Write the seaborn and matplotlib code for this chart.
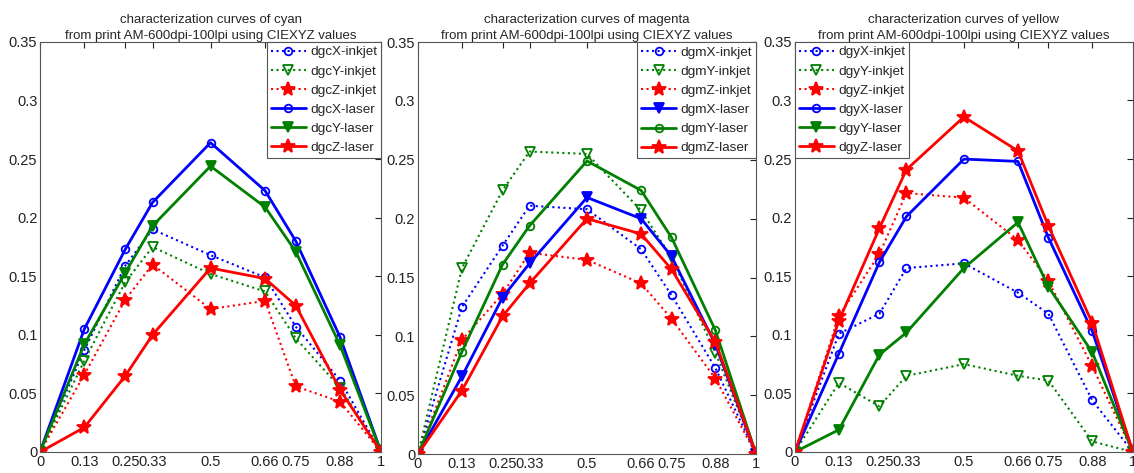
import numpy as np
import pandas as pd
import seaborn as sns
import matplotlib
matplotlib.use("Agg")
import matplotlib.pyplot as plt

sns.set_style("white")
plt.rcParams['font.family'] = ['Liberation Sans', 'DejaVu Sans']

x_vals = [0, 0.13, 0.25, 0.33, 0.5, 0.66, 0.75, 0.88, 1]
x_labels = ["0", "0.13", "0.25", "0.33", "0.5", "0.66", "0.75", "0.88", "1"]
y_ticks = [0, 0.05, 0.1, 0.15, 0.2, 0.25, 0.3, 0.35]
y_labels = ["0", "0.05", "0.1", "0.15", "0.2", "0.25", "0.3", "0.35"]

# cyan
dgcX_inkjet = [0, 0.087, 0.159, 0.190, 0.168, 0.149, 0.107, 0.061, 0]
dgcY_inkjet = [0, 0.078, 0.145, 0.175, 0.152, 0.137, 0.097, 0.055, 0]
dgcZ_inkjet = [0, 0.066, 0.130, 0.160, 0.122, 0.129, 0.056, 0.043, 0]
dgcX_laser = [0, 0.105, 0.173, 0.213, 0.264, 0.223, 0.180, 0.098, 0]
dgcY_laser = [0, 0.092, 0.153, 0.193, 0.244, 0.209, 0.171, 0.091, 0]
dgcZ_laser = [0, 0.021, 0.065, 0.100, 0.157, 0.148, 0.125, 0.053, 0]

# magenta
dgmX_inkjet = [0, 0.125, 0.177, 0.211, 0.208, 0.174, 0.135, 0.073, 0]
dgmY_inkjet = [0, 0.158, 0.224, 0.257, 0.255, 0.207, 0.167, 0.086, 0]
dgmZ_inkjet = [0, 0.097, 0.136, 0.171, 0.165, 0.145, 0.115, 0.064, 0]
dgmX_laser = [0, 0.066, 0.133, 0.162, 0.218, 0.200, 0.168, 0.093, 0]
dgmY_laser = [0, 0.087, 0.161, 0.194, 0.249, 0.224, 0.184, 0.105, 0]
dgmZ_laser = [0, 0.054, 0.117, 0.145, 0.200, 0.187, 0.157, 0.095, 0]

# yellow
dgyX_inkjet = [0, 0.101, 0.118, 0.157, 0.161, 0.136, 0.118, 0.044, 0]
dgyY_inkjet = [0, 0.059, 0.039, 0.065, 0.075, 0.065, 0.061, 0.009, 0]
dgyZ_inkjet = [0, 0.116, 0.169, 0.221, 0.217, 0.181, 0.146, 0.073, 0]
dgyX_laser = [0, 0.084, 0.162, 0.201, 0.250, 0.248, 0.183, 0.103, 0]
dgyY_laser = [0, 0.019, 0.083, 0.102, 0.157, 0.196, 0.141, 0.085, 0]
dgyZ_laser = [0, 0.112, 0.191, 0.241, 0.286, 0.257, 0.193, 0.110, 0]

BLUE, GREEN, RED = "#0000ff", "#008000", "#ff0000"

panels = [
    dict(title="characterization curves of cyan\nfrom print AM-600dpi-100lpi using CIEXYZ values",
         pos=[0.0353, 0.0444, 0.3007, 0.867], loc="upper right",
         series=[
             ("dgcX-inkjet", dgcX_inkjet, BLUE, ":", "o", False),
             ("dgcY-inkjet", dgcY_inkjet, GREEN, ":", "v", False),
             ("dgcZ-inkjet", dgcZ_inkjet, RED, ":", "*", True),
             ("dgcX-laser", dgcX_laser, BLUE, "-", "o", False),
             ("dgcY-laser", dgcY_laser, GREEN, "-", "v", True),
             ("dgcZ-laser", dgcZ_laser, RED, "-", "*", True),
         ]),
    dict(title="characterization curves of magenta\nfrom print AM-600dpi-100lpi using CIEXYZ values",
         pos=[0.3686, 0.040, 0.2981, 0.871], loc="upper right",
         series=[
             ("dgmX-inkjet", dgmX_inkjet, BLUE, ":", "o", False),
             ("dgmY-inkjet", dgmY_inkjet, GREEN, ":", "v", False),
             ("dgmZ-inkjet", dgmZ_inkjet, RED, ":", "*", True),
             ("dgmX-laser", dgmX_laser, BLUE, "-", "v", True),
             ("dgmY-laser", dgmY_laser, GREEN, "-", "o", False),
             ("dgmZ-laser", dgmZ_laser, RED, "-", "*", True),
         ]),
    dict(title="characterization curves of yellow\nfrom print AM-600dpi-100lpi using CIEXYZ values",
         pos=[0.701, 0.0444, 0.298, 0.867], loc="upper left",
         series=[
             ("dgyX-inkjet", dgyX_inkjet, BLUE, ":", "o", False),
             ("dgyY-inkjet", dgyY_inkjet, GREEN, ":", "v", False),
             ("dgyZ-inkjet", dgyZ_inkjet, RED, ":", "*", True),
             ("dgyX-laser", dgyX_laser, BLUE, "-", "o", False),
             ("dgyY-laser", dgyY_laser, GREEN, "-", "v", True),
             ("dgyZ-laser", dgyZ_laser, RED, "-", "*", True),
         ]),
]

fig = plt.figure(figsize=(11.34, 4.73), dpi=100)

for p in panels:
    ax = fig.add_axes(p["pos"])
    for label, vals, color, ls, mk, filled in p["series"]:
        df = pd.DataFrame({"x": x_vals, "y": vals})
        solid = ls == "-"
        ms = {"o": 5.5, "v": 6.5, "*": 10}[mk]
        sns.lineplot(data=df, x="x", y="y", ax=ax, color=color, linestyle=ls,
                     linewidth=2.0 if solid else 1.5, marker=mk, markersize=ms,
                     markeredgecolor=color,
                     markerfacecolor=color if filled else "none",
                     markeredgewidth=1.3, label=label, sort=False,
                     errorbar=None)
    ax.set_xlim(0, 1)
    ax.set_ylim(0, 0.35)
    ax.set_xticks(x_vals)
    ax.set_xticklabels(x_labels)
    ax.set_yticks(y_ticks)
    ax.set_yticklabels(y_labels)
    ax.set_xlabel("")
    ax.set_ylabel("")
    ax.tick_params(direction="in", top=True, right=True, length=4, width=0.8,
                   labelsize=10.5, colors="#222222", pad=2)
    for s in ax.spines.values():
        s.set_color("#555555")
        s.set_linewidth(0.8)
    ax.set_title(p["title"], fontsize=9.5, pad=2, linespacing=1.45)
    leg = ax.legend(loc=p["loc"], fontsize=9.7, frameon=True, fancybox=False,
                    framealpha=1, edgecolor="#555555", borderaxespad=0,
                    handlelength=2.6, handletextpad=0.3, labelspacing=0.5,
                    borderpad=0.3)
    leg.get_frame().set_linewidth(0.8)

fig.savefig("out.png", dpi=100)
